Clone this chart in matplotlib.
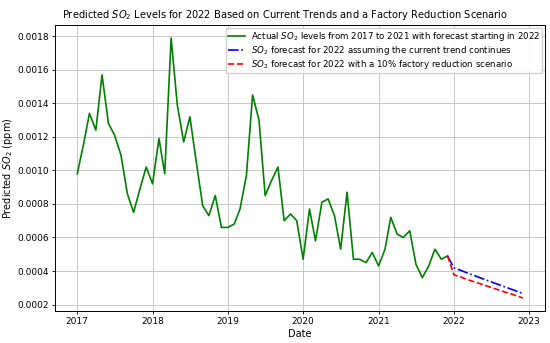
import matplotlib
matplotlib.use('Agg')
import matplotlib.pyplot as plt
import pandas as pd

# Monthly SO2 levels, Jan 2017 .. Dec 2021
actual = [0.00098, 0.00116, 0.00134, 0.00124, 0.00157, 0.00128, 0.00121, 0.00109,
          0.00086, 0.00075, 0.00089, 0.00102, 0.00092, 0.00119, 0.00098, 0.00179,
          0.00139, 0.00117, 0.00132, 0.00105, 0.00079, 0.00073, 0.00085, 0.00066,
          0.00066, 0.00068, 0.00077, 0.00097, 0.00145, 0.00130, 0.00085, 0.00094,
          0.00102, 0.00070, 0.00074, 0.00070, 0.00047, 0.00077, 0.00058, 0.00081,
          0.00083, 0.00073, 0.00053, 0.00087, 0.00047, 0.00047, 0.00045, 0.00051,
          0.00043, 0.00053, 0.00072, 0.00062, 0.00060, 0.00064, 0.00044, 0.00036,
          0.00043, 0.00053, 0.00047, 0.00049]

# Forecasts Jan 2022 .. Dec 2022
forecast_trend = [0.000419, 0.000405, 0.000391, 0.000377, 0.000363, 0.000349,
                  0.000335, 0.000321, 0.000307, 0.000294, 0.000280, 0.000266]
forecast_reduced = [0.000377, 0.000365, 0.000352, 0.000339, 0.000327, 0.000314,
                    0.000302, 0.000289, 0.000276, 0.000265, 0.000252, 0.000239]

dates = pd.date_range('2017-01-01', periods=len(actual), freq='MS')
# forecasts start from the last actual month so the lines join up
fc_dates = pd.date_range('2021-12-01', periods=len(forecast_trend) + 1, freq='MS')

fig = plt.figure(figsize=(5.5, 3.43), dpi=100)
ax = fig.add_axes([0.1, 0.0933, 0.891, 0.834])

ax.plot(dates, actual, color='green', lw=1.2,
        label='Actual $SO_2$ levels from 2017 to 2021 with forecast starting in 2022')
ax.plot(fc_dates, [actual[-1]] + forecast_trend, color='blue', ls='-.', lw=1.2,
        label='$SO_2$ forecast for 2022 assuming the current trend continues')
ax.plot(fc_dates, [actual[-1]] + forecast_reduced, color='red', ls='--', lw=1.2,
        label='$SO_2$ forecast for 2022 with a 10% factory reduction scenario')

ax.set_title('Predicted $SO_2$ Levels for 2022 Based on Current Trends and a Factory Reduction Scenario',
             fontsize=7.1, pad=5, x=0.469)
ax.set_xlabel('Date', fontsize=7.0)
ax.set_ylabel('Predicted $SO_2$ (ppm)', fontsize=7.0)
ax.yaxis.set_label_coords(-0.081, 0.5)
ax.xaxis.set_label_coords(0.5, -0.063)
ax.tick_params(labelsize=6.5, length=2.5, width=0.6, pad=2)
ax.grid(True, color='#c8c8c8', lw=0.7)
for s in ax.spines.values():
    s.set_linewidth(0.7)
ax.legend(loc='upper right', fontsize=6.2, framealpha=0.9, handlelength=2.0,
          borderaxespad=0.3, labelspacing=0.1, borderpad=0.3, handletextpad=0.6)

fig.savefig('out.png', dpi=100)
